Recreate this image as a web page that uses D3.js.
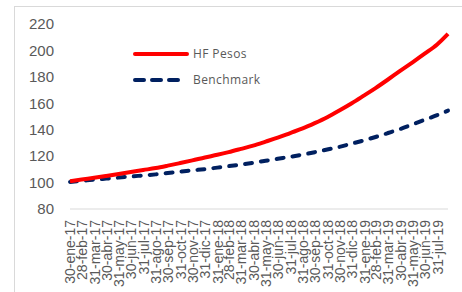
<!DOCTYPE html>
<html>
<head>
<meta charset="utf-8">
<script src="https://cdn.jsdelivr.net/npm/d3@7"></script>
<style>
  body { margin: 0; background: #fff; }
  svg { display: block; font-family: "Open Sans", sans-serif; }
</style>
</head>
<body>
<div id="chart"></div>
<script>
// month-end dates (last point has no label)
var dates = ["30-ene-17","28-feb-17","31-mar-17","30-abr-17","31-may-17","30-jun-17","31-jul-17",
  "31-ago-17","30-sep-17","31-oct-17","30-nov-17","31-dic-17","31-ene-18","28-feb-18","31-mar-18",
  "30-abr-18","31-may-18","30-jun-18","31-jul-18","31-ago-18","30-sep-18","31-oct-18","30-nov-18",
  "31-dic-18","31-ene-19","28-feb-19","31-mar-19","30-abr-19","31-may-19","30-jun-19","31-jul-19",
  "27-ago-19"];
var tickLabels = dates.slice(0, 31);

var hfPesos = [101, 102.3, 103.6, 105, 106.5, 108, 109.5, 111, 112.8, 114.8, 116.8, 119, 121, 123,
  125.5, 128, 131, 134, 137.5, 141, 145, 149.5, 154.5, 160, 166, 171.5, 178, 184.5, 191, 197.5, 204.5, 212.5];
var benchmark = [100.5, 101.3, 102.2, 103, 103.8, 104.6, 105.4, 106.2, 107.2, 108.2, 109.2, 110.2,
  111.3, 112.4, 113.7, 115, 116.5, 118, 119.5, 121.2, 123, 125, 127, 129.5, 132, 134.5, 137.5, 140.5,
  144, 147.5, 151, 154.5];
var yTicks = [80, 100, 120, 140, 160, 180, 200, 220];

var meses = ["ene","feb","mar","abr","may","jun","jul","ago","sep","oct","nov","dic"];
function parseEs(s) {
  var p = s.split("-");
  return new Date(2000 + +p[2], meses.indexOf(p[1]), +p[0]);
}

var width = 462, height = 292;

var svg = d3.select("#chart").append("svg")
  .attr("width", width)
  .attr("height", height);

// chart border
svg.append("rect")
  .attr("x", 14.5).attr("y", 6.5)
  .attr("width", 480).attr("height", 300)
  .attr("fill", "#fff")
  .attr("stroke", "#d9d9d9");

var x = d3.scaleTime()
  .domain([parseEs(dates[0]), parseEs(dates[dates.length - 1])])
  .range([70, 448]);
var y = d3.scaleLinear().domain([80, 220]).range([209, 24]);

// baseline at 80
svg.append("line")
  .attr("x1", 70).attr("x2", 448)
  .attr("y1", y(80)).attr("y2", y(80))
  .attr("stroke", "#d9d9d9");

// y axis
var yAxis = svg.append("g")
  .attr("transform", "translate(54,0)")
  .call(d3.axisLeft(y).tickValues(yTicks).tickSize(0).tickPadding(0));
yAxis.select(".domain").remove();
yAxis.selectAll("text")
  .attr("fill", "#595959")
  .style("font-size", "15px");

// x axis, rotated labels
var xAxis = svg.append("g")
  .attr("transform", "translate(0,220)")
  .call(d3.axisBottom(x).tickValues(tickLabels.map(parseEs)).tickSize(0)
    .tickFormat(function(d, i) { return tickLabels[i]; }));
xAxis.select(".domain").remove();
xAxis.selectAll("text")
  .attr("fill", "#595959")
  .style("font-size", "14px")
  .attr("y", 0)
  .attr("dy", "0.35em")
  .attr("transform", "rotate(-90)")
  .style("text-anchor", "end");

var line = d3.line()
  .curve(d3.curveMonotoneX)
  .x(function(d) { return x(d.date); })
  .y(function(d) { return y(d.v); });

var rows = dates.map(function(s, i) {
  return { date: parseEs(s), hf: hfPesos[i], bm: benchmark[i] };
});

svg.append("path")
  .datum(rows.map(function(r) { return { date: r.date, v: r.bm }; }))
  .attr("fill", "none")
  .attr("stroke", "#002060")
  .attr("stroke-width", 4)
  .attr("stroke-linecap", "round")
  .attr("stroke-dasharray", "7,9")
  .attr("d", line);

svg.append("path")
  .datum(rows.map(function(r) { return { date: r.date, v: r.hf }; }))
  .attr("fill", "none")
  .attr("stroke", "#ff0000")
  .attr("stroke-width", 4)
  .attr("stroke-linejoin", "round")
  .attr("d", line);

// legend
var legend = [
  { name: "HF Pesos", color: "#ff0000", dash: null, y: 54, x2: 187 },
  { name: "Benchmark", color: "#002060", dash: "9,8", y: 80, x2: 183 }
];
legend.forEach(function(l) {
  svg.append("line")
    .attr("x1", 135).attr("x2", l.x2)
    .attr("y1", l.y).attr("y2", l.y)
    .attr("stroke", l.color)
    .attr("stroke-width", 4)
    .attr("stroke-linecap", "round")
    .attr("stroke-dasharray", l.dash);
  svg.append("text")
    .attr("x", 193).attr("y", l.y)
    .attr("dy", "0.35em")
    .attr("fill", "#595959")
    .style("font-size", "12px")
    .style("letter-spacing", "0.4px")
    .text(l.name);
});
</script>
</body>
</html>
